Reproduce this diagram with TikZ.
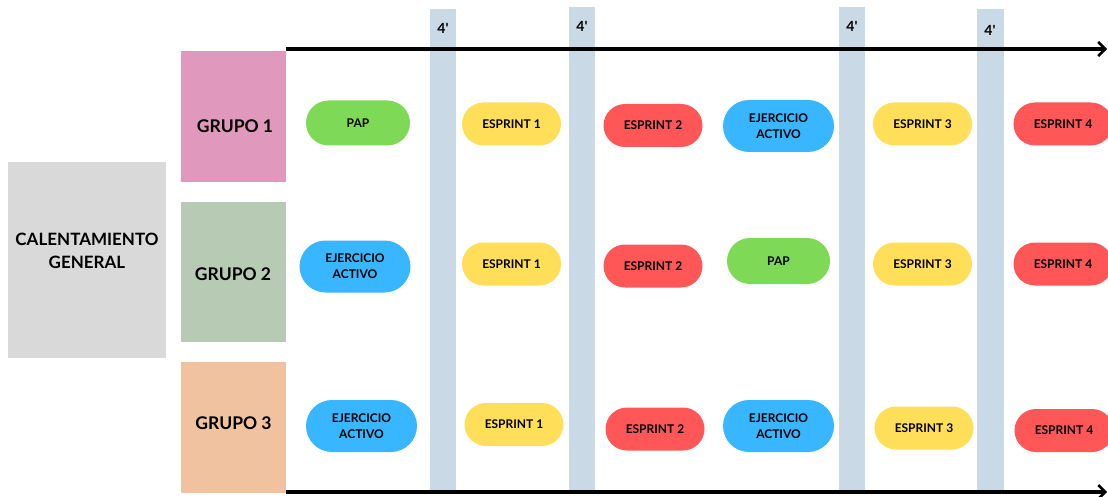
\documentclass[tikz,border=0pt]{standalone}
\usepackage{fontspec}
\setmainfont{Lato}
\usetikzlibrary{shapes.misc,arrows.meta}
\definecolor{warmgray}{HTML}{D9D9D9}
\definecolor{gpink}{HTML}{E198BD}
\definecolor{gsage}{HTML}{B7CAB4}
\definecolor{gpeach}{HTML}{F0C29F}
\definecolor{barblue}{HTML}{C9D9E6}
\definecolor{papgreen}{HTML}{7ED957}
\definecolor{sprintyellow}{HTML}{FFDE59}
\definecolor{sprintred}{HTML}{FF5757}
\definecolor{activeblue}{HTML}{38B6FF}
\begin{document}
\begin{tikzpicture}[x=1pt,y=-1pt,
  groupbox/.style={rectangle,inner sep=0,minimum width=105},
  grouptext/.style={font=\fontsize{17.5}{20}\selectfont\bfseries},
  pill/.style={rounded rectangle,inner sep=0,minimum width=99,minimum height=43,
    font=\fontsize{12}{16}\selectfont\bfseries,align=center},
  pap/.style={pill,fill=papgreen,minimum width=104,minimum height=45},
  sprintA/.style={pill,fill=sprintyellow},
  sprintB/.style={pill,fill=sprintred},
  active/.style={pill,fill=activeblue,minimum width=111,minimum height=52},
  pause/.style={font=\fontsize{14}{16}\selectfont\bfseries},
  timeline/.style={line width=3.8pt,-{Straight Barb[length=7pt,width=14pt,line width=2.5pt]}}]
\useasboundingbox (0,0) rectangle (1108,497);
% rest bars
\fill[barblue] (430,9) rectangle (456,490);
\fill[barblue] (569,7) rectangle (595,490);
\fill[barblue] (839,7) rectangle (865,490);
\fill[barblue] (977,9) rectangle (1004,490);
\node[pause] (p1) at (443,28) {4\textquotesingle};
\node[pause] (p2) at (582,26) {4\textquotesingle};
\node[pause] (p3) at (852,26) {4\textquotesingle};
\node[pause] (p4) at (990,30) {4\textquotesingle};
% warm-up and groups
\node[fill=warmgray,inner sep=0,minimum width=158,minimum height=196] (warmup) at (87,260) {};
\node[align=center,font=\fontsize{17}{23}\selectfont\bfseries] (warmuptext) at (87,251) {CALENTAMIENTO\\GENERAL};
\node[groupbox,fill=gpink,minimum height=131] (g1) at (233.5,116.5) {};
\node[groupbox,fill=gsage,minimum height=140] (g2) at (233.5,272) {};
\node[groupbox,fill=gpeach,minimum height=131] (g3) at (233.5,427.5) {};
\node[grouptext] (g1text) at (235,126) {GRUPO 1};
\node[grouptext] (g2text) at (233,274) {GRUPO 2};
\node[grouptext] (g3text) at (233.5,423) {GRUPO 3};
% time axes
\coordinate (topstart) at (286,49);
\coordinate (topend) at (1107,49);
\coordinate (botstart) at (286,492);
\coordinate (botend) at (1107,492);
\draw[timeline] (topstart) -- (topend);
\draw[timeline] (botstart) -- (botend);
% group 1
\node[pap] (a1) at (358,123) {PAP};
\node[sprintA] (a2) at (511.5,124) {ESPRINT 1};
\node[sprintB] (a3) at (653,125.5) {ESPRINT 2};
\node[active] (a4) at (778.5,126) {EJERCICIO\\ACTIVO};
\node[sprintA] (a5) at (922.5,124) {ESPRINT 3};
\node[sprintB] (a6) at (1063,124) {ESPRINT 4};
% group 2
\node[active] (b1) at (355,266.5) {EJERCICIO\\ACTIVO};
\node[sprintA] (b2) at (511.5,264) {ESPRINT 1};
\node[sprintB] (b3) at (653,266) {ESPRINT 2};
\node[pap,minimum width=103,minimum height=46] (b4) at (778.5,261) {PAP};
\node[sprintA] (b5) at (922.5,264) {ESPRINT 3};
\node[sprintB] (b6) at (1063,264) {ESPRINT 4};
% group 3
\node[active] (c1) at (361.5,426) {EJERCICIO\\ACTIVO};
\node[sprintA] (c2) at (514,424.5) {ESPRINT 1};
\node[sprintB] (c3) at (655,429) {ESPRINT 2};
\node[active] (c4) at (778.5,426) {EJERCICIO\\ACTIVO};
\node[sprintA] (c5) at (924,428) {ESPRINT 3};
\node[sprintB] (c6) at (1064,430.5) {ESPRINT 4};
\end{tikzpicture}
\end{document}
